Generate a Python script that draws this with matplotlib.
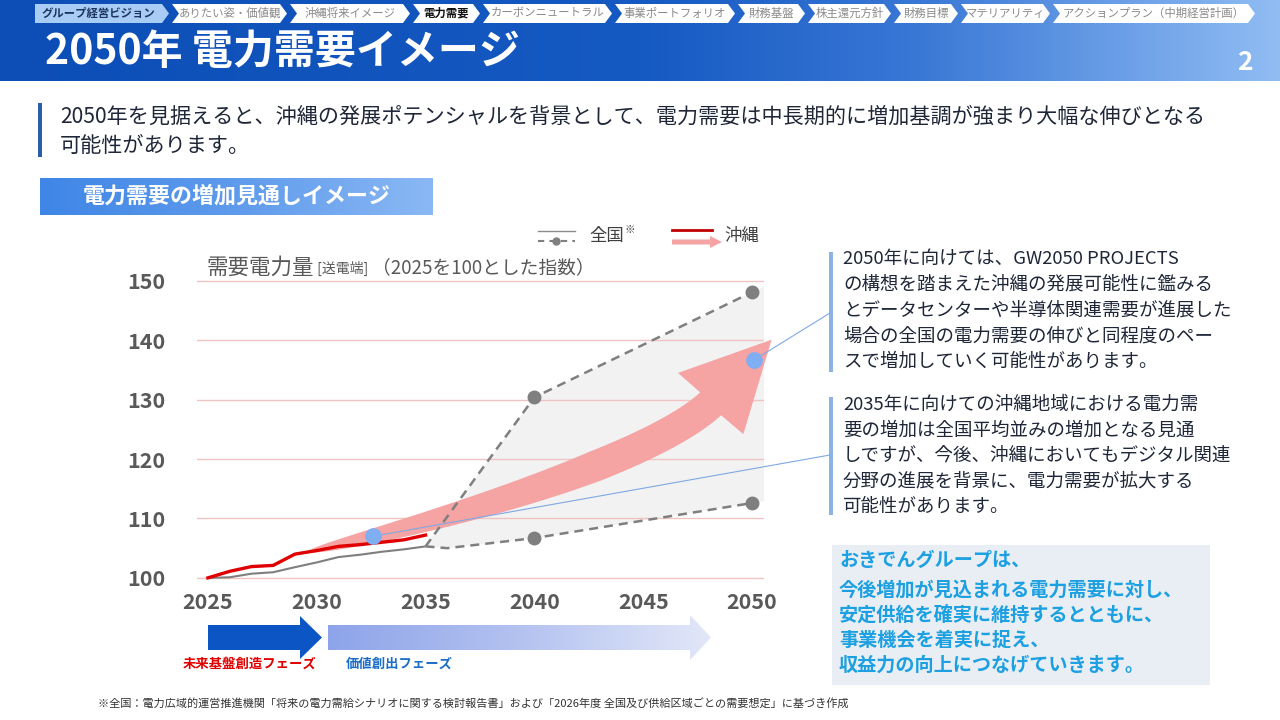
import numpy as np
import matplotlib
matplotlib.use('Agg')
import matplotlib.pyplot as plt
from matplotlib.patches import Polygon, Rectangle, FancyArrow
from matplotlib.colors import LinearSegmentedColormap

plt.rcParams['font.family'] = ['Noto Sans CJK JP', 'DejaVu Sans']

# ---------------- data ----------------
hist_years = [2025, 2026, 2027, 2028, 2029, 2030, 2031, 2032, 2033, 2034, 2035]
national_hist = [100.0, 100.1, 100.7, 100.95, 101.8, 102.6, 103.5, 103.9, 104.4, 104.8, 105.3]
okinawa_hist = [100.0, 101.1, 101.9, 102.1, 104.0, 104.6, 105.3, 105.6, 106.0, 106.4, 107.2]

national_high_years = [2035, 2040, 2050]
national_high = [105.3, 130.4, 148.1]
national_low_years = [2035, 2036, 2040, 2050]
national_low = [105.3, 105.0, 106.7, 112.6]
marker_years = [2040, 2050]

callout_years = [2032.6, 2050.1]
callout_values = [107.0, 136.7]

# Okinawa growth arrow (centre path + head), in data units
arrow_path_years = [2029.6, 2036.1, 2045.3, 2048.1]
arrow_path_values = [104.4, 109.8, 119.9, 129.3]
arrow_head_years = [2046.6, 2050.9, 2049.6]
arrow_head_values = [134.5, 140.1, 124.2]

y_ticks = [100, 110, 120, 130, 140, 150]
x_ticks = [2025, 2030, 2035, 2040, 2045, 2050]

nav_labels = ["グループ経営ビジョン", "ありたい姿・価値観", "沖縄将来イメージ", "電力需要",
              "カーボンニュートラル", "事業ポートフォリオ", "財務基盤", "株主還元方針",
              "財務目標", "マテリアリティ", "アクションプラン（中期経営計画）"]
nav_bounds = [33, 170, 288, 411, 481, 613, 736, 806, 892, 959, 1051, 1256]

title = "2050年 電力需要イメージ"
lead_lines = ["2050年を見据えると、沖縄の発展ポテンシャルを背景として、電力需要は中長期的に増加基調が強まり大幅な伸びとなる",
              "可能性があります。"]
section_title = "電力需要の増加見通しイメージ"
note1_lines = ["2050年に向けては、GW2050 PROJECTS",
               "の構想を踏まえた沖縄の発展可能性に鑑みる",
               "とデータセンターや半導体関連需要が進展した",
               "場合の全国の電力需要の伸びと同程度のペー",
               "スで増加していく可能性があります。"]
note2_lines = ["2035年に向けての沖縄地域における電力需",
               "要の増加は全国平均並みの増加となる見通",
               "しですが、今後、沖縄においてもデジタル関連",
               "分野の進展を背景に、電力需要が拡大する",
               "可能性があります。"]
box_lines = ["おきでんグループは、",
             "今後増加が見込まれる電力需要に対し、",
             "安定供給を確実に維持するとともに、",
             "事業機会を着実に捉え、",
             "収益力の向上につなげていきます。"]
phase_labels = ["未来基盤創造フェーズ", "価値創出フェーズ"]
footnote = "※全国：電力広域的運営推進機関「将来の電力需給シナリオに関する検討報告書」および「2026年度 全国及び供給区域ごとの需要想定」に基づき作成"

# ---------------- figure ----------------
fig = plt.figure(figsize=(12.8, 7.2), dpi=100)
bg = fig.add_axes([0, 0, 1, 1], zorder=0)
bg.axis('off')

# header gradient
grad = np.linspace(0, 1, 600)[None, :]
hcmap = LinearSegmentedColormap.from_list('h', [(0, '#0C4EB6'), (0.5, '#1559C2'), (0.72, '#3A78D6'), (1, '#90BCF3')])
bg.imshow(grad, cmap=hcmap, extent=[0, 1280, 81, 0], aspect='auto', zorder=0)
bg.set_xlim(0, 1280)
bg.set_ylim(720, 0)

# nav chevrons
for i, lab in enumerate(nav_labels):
    x0, x1 = nav_bounds[i], nav_bounds[i + 1]
    L = x0 + 2
    R = x1 - 8
    yt, yb, ym = 4, 23, 13.5
    if i == 0:
        pts = [(L, yt), (R, yt), (R + 7, ym), (R, yb), (L, yb)]
        fc = '#A9CCF4'
    else:
        pts = [(L, yt), (R, yt), (R + 7, ym), (R, yb), (L, yb), (L + 7, ym)]
        fc = 'white'
    bg.add_patch(Polygon(pts, closed=True, facecolor=fc, edgecolor='none', zorder=1))
    cx = (L + 7 + R) / 2 if i > 0 else (L + R) / 2
    if i == 0:
        bg.text(cx, ym, lab, fontsize=8.2, fontweight='bold', color='#1C3560', ha='center', va='center', zorder=2)
    elif lab == "電力需要":
        bg.text(cx, ym, lab, fontsize=8.2, fontweight='bold', color='#111111', ha='center', va='center', zorder=2)
    else:
        bg.text(cx, ym, lab, fontsize=8.2, color='#8A8A8A', ha='center', va='center', zorder=2)

bg.text(45, 52, title, fontsize=29.5, fontweight='bold', color='white', ha='left', va='center', zorder=2)
bg.text(1245, 62, "2", fontsize=19, fontweight='bold', color='white', ha='center', va='center', zorder=2)

# lead text
bg.add_patch(Rectangle((38, 103), 4, 54, facecolor='#2A5CAA', edgecolor='none'))
bg.text(60, 117, lead_lines[0], fontsize=15.2, color='#1E2638', ha='left', va='center')
bg.text(60, 146, lead_lines[1], fontsize=15.2, color='#1E2638', ha='left', va='center')

# section header box with gradient
scmap = LinearSegmentedColormap.from_list('s', ['#3F86E6', '#5F9BEC', '#8AB8F4'])
bg.imshow(grad, cmap=scmap, extent=[40, 433, 215, 178], aspect='auto', zorder=1)
bg.set_xlim(0, 1280)
bg.set_ylim(720, 0)
bg.text(237, 196, section_title, fontsize=15.8, fontweight='bold', color='white', ha='center', va='center', zorder=2)

# legend
bg.plot([538, 575], [231, 231], color='#8C8C8C', lw=1.0)
bg.plot([538, 575], [241, 241], color='#7F7F7F', lw=1.5, dashes=(3, 2.5))
bg.plot([556], [241], 'o', color='#7F7F7F', ms=5)
bg.text(589, 236, "全国", fontsize=12.5, color='#404040', ha='left', va='center')
bg.text(625, 230, "※", fontsize=7.5, color='#404040', ha='left', va='center')
bg.plot([672, 712], [230, 230], color='#C00000', lw=2.0)
bg.add_patch(FancyArrow(672, 242, 38, 0, width=5, head_width=12, head_length=12,
                        length_includes_head=False, color='#F5A3A3', lw=0))
bg.text(724, 236, "沖縄", fontsize=12.5, color='#404040', ha='left', va='center')

# y-axis title (mixed sizes)
fig.canvas.draw()
renderer = fig.canvas.get_renderer()
xcur = 207
for txt, fs in [("需要電力量", 15.5), (" [送電端] ", 10), ("（2025を100とした指数）", 13.5)]:
    t = bg.text(xcur, 268, txt, fontsize=fs, color='#595959', ha='left', va='center')
    bb = t.get_window_extent(renderer)
    xcur += bb.width

# right notes
bg.add_patch(Rectangle((829, 252), 4, 120, facecolor='#8DB3E2', edgecolor='none'))
for k, ln in enumerate(note1_lines):
    bg.text(843, 259 + k * 25.8, ln, fontsize=13.3, color='#1E2638', ha='left', va='center')
bg.add_patch(Rectangle((829, 397), 4, 118, facecolor='#8DB3E2', edgecolor='none'))
for k, ln in enumerate(note2_lines):
    bg.text(843, 405 + k * 25.5, ln, fontsize=13.3, color='#1E2638', ha='left', va='center')

# summary box
bg.add_patch(Rectangle((832, 545), 378, 140, facecolor='#E8EEF3', edgecolor='none'))
box_y = [561, 590, 615, 640, 665]
for yy, ln in zip(box_y, box_lines):
    bg.text(839, yy, ln, fontsize=13.8, fontweight='bold', color='#1CA0E2', ha='left', va='center')

# phase arrows
dark = Polygon([(208, 625), (300, 625), (300, 616), (322, 637.5), (300, 659), (300, 650), (208, 650)],
               closed=True, facecolor='#0B56C4', edgecolor='none')
bg.add_patch(dark)
light = Polygon([(328, 625), (690, 625), (690, 615), (711, 637.5), (690, 660), (690, 650), (328, 650)],
                closed=True, facecolor='none', edgecolor='none', transform=bg.transData)
bg.add_patch(light)
pcmap = LinearSegmentedColormap.from_list('p', ['#8EA4EA', '#B4C2F0', '#E2E7F8'])
im = bg.imshow(grad, cmap=pcmap, extent=[328, 711, 660, 615], aspect='auto', zorder=1)
im.set_clip_path(light)
bg.set_xlim(0, 1280)
bg.set_ylim(720, 0)
bg.text(250, 664, phase_labels[0], fontsize=9.6, fontweight='bold', color='#E00000', ha='center', va='center')
bg.text(399, 664, phase_labels[1], fontsize=9.6, fontweight='bold', color='#1A6DC8', ha='center', va='center')

bg.text(98, 703, footnote, fontsize=8.0, color='#333333', ha='left', va='center')

# ---------------- chart axes ----------------
ax = fig.add_axes([197 / 1280, 135 / 720, 567 / 1280, 316 / 720], zorder=1)
ax.set_facecolor('none')
ax.set_xlim(2024.5, 2050.55)
ax.set_ylim(98.8, 152.0)
for s in ax.spines.values():
    s.set_visible(False)
ax.set_xticks(x_ticks)
ax.set_yticks(y_ticks)
ax.tick_params(length=0, labelsize=15.5, labelcolor='#595959')
ax.tick_params(axis='y', pad=23)
ax.tick_params(axis='x', pad=5)
for lab in ax.get_xticklabels() + ax.get_yticklabels():
    lab.set_fontweight('bold')

# gray range fill
up_x = list(national_high_years)
up_y = list(national_high)
lo_x = list(national_low_years)
lo_y = list(national_low)
xr = ax.get_xlim()[1]
up_ext = up_y[-1] + (up_y[-1] - up_y[-2]) / (up_x[-1] - up_x[-2]) * (xr - up_x[-1])
lo_ext = lo_y[-1] + (lo_y[-1] - lo_y[-2]) / (lo_x[-1] - lo_x[-2]) * (xr - lo_x[-1])
poly_x = up_x + [xr, xr] + lo_x[::-1]
poly_y = up_y + [up_ext, lo_ext] + lo_y[::-1]
ax.fill(poly_x, poly_y, color='#F2F2F2', lw=0, zorder=1, clip_on=False)

for yv in y_ticks:
    ax.axhline(yv, color='#F0C2C2', lw=1.0, zorder=1.5)

# Okinawa growth arrow built in display space
T = ax.transData
P = T.transform(np.column_stack([arrow_path_years, arrow_path_values]))
ts = np.linspace(0, 1, 120)
B = ((1 - ts) ** 3)[:, None] * P[0] + (3 * (1 - ts) ** 2 * ts)[:, None] * P[1] + \
    (3 * (1 - ts) * ts ** 2)[:, None] * P[2] + (ts ** 3)[:, None] * P[3]
D = (3 * (1 - ts) ** 2)[:, None] * (P[1] - P[0]) + (6 * (1 - ts) * ts)[:, None] * (P[2] - P[1]) + \
    (3 * ts ** 2)[:, None] * (P[3] - P[2])
D = D / np.linalg.norm(D, axis=1)[:, None]
N = np.column_stack([-D[:, 1], D[:, 0]])
seg = np.r_[0, np.cumsum(np.linalg.norm(np.diff(B, axis=0), axis=1))]
hw = 15.5 * np.sqrt(np.minimum(seg / 300.0, 1.0))
upper = B + N * hw[:, None]
lower = B - N * hw[:, None]
H = T.transform(np.column_stack([arrow_head_years, arrow_head_values]))
c1, tip, c2 = H[0], H[1], H[2]
if np.dot(c1 - P[3], N[-1]) < 0:
    c1, c2 = c2, c1
verts = np.vstack([upper, [c1, tip, c2], lower[::-1]])
verts_data = T.inverted().transform(verts)
ax.add_patch(Polygon(verts_data, closed=True, facecolor='#F5A3A3', edgecolor='none', zorder=2, clip_on=False))

# lines
ax.plot(hist_years, national_hist, color='#7F7F7F', lw=1.5, zorder=3, solid_capstyle='butt')
ax.plot(national_high_years, national_high, color='#7F7F7F', lw=1.8, dashes=(3.6, 2.4), zorder=3)
ax.plot(national_low_years, national_low, color='#7F7F7F', lw=1.8, dashes=(3.6, 2.4), zorder=3)
mk_hi = [national_high[national_high_years.index(y)] for y in marker_years]
mk_lo = [national_low[national_low_years.index(y)] for y in marker_years]
ax.plot(marker_years, mk_hi, 'o', color='#7F7F7F', ms=9, zorder=4, clip_on=False)
ax.plot(marker_years, mk_lo, 'o', color='#7F7F7F', ms=9, zorder=4, clip_on=False)
ax.plot(hist_years, okinawa_hist, color='#E00000', lw=2.4, zorder=4, solid_joinstyle='round')

# callouts
ax.plot(callout_years, callout_values, 'o', color='#7FAEF2', ms=11, zorder=6, clip_on=False)
targets = [(830, 313), (830, 455)]
for (cy, cv), tg in zip(zip(callout_years[::-1], callout_values[::-1]), targets):
    pd_ = T.transform((cy, cv))
    pb = bg.transData.inverted().transform(pd_)
    ax.plot([pb[0], tg[0]], [pb[1], tg[1]], color='#7FA8E4', lw=0.8, transform=bg.transData,
            clip_on=False, zorder=5)

fig.savefig('out.png', dpi=100)
